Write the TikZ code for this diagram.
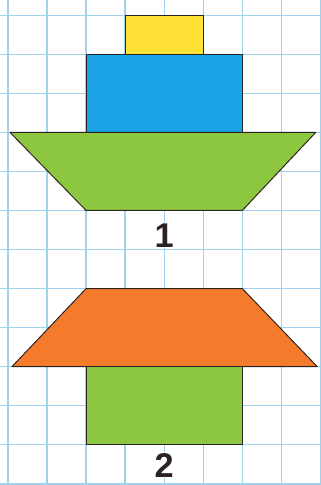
\documentclass[tikz,border=0pt]{standalone}
\usepackage{fontspec}
\setsansfont{Liberation Sans}
\usetikzlibrary{positioning}
\definecolor{gridc}{HTML}{A0D2EE}
\definecolor{sun}{HTML}{FFE135}
\definecolor{sky}{HTML}{1AA3E6}
\definecolor{leaf}{HTML}{8DC63F}
\definecolor{rust}{HTML}{F47A2C}
\definecolor{ink}{HTML}{2B2222}
\tikzset{gridline/.style={draw=gridc,line width=1pt},
  piece/.style={draw=ink,line width=.7pt,line join=round},
  numlbl/.style={fill=white,inner sep=.5pt,text=ink,font=\sffamily\bfseries\fontsize{25}{25}\selectfont}}
\begin{document}
\begin{tikzpicture}[x=1cm,y=1cm]
\useasboundingbox (-.205,-.03) rectangle (8,12.39);
\fill[white] (-.205,-.03) rectangle (8,12.39);
\foreach \i in {0,...,8} \draw[gridline] (\i,-.03)--(\i,12.39);
\foreach \j in {0,...,12} \draw[gridline] (-.205,\j)--(8,\j);
% figure 1
\draw[piece,fill=sun] (3,11) rectangle (5,12);
\draw[piece,fill=sky] (2,9) rectangle (6,11);
\draw[piece,fill=leaf] (.05,9)--(7.88,9)--(6,7)--(2,7)--cycle;
\node[numlbl] (one) at (4,6.35) {1};
% figure 2
\draw[piece,fill=rust] (2,5)--(6,5)--(7.92,3)--(.1,3)--cycle;
\draw[piece,fill=leaf] (2,1) rectangle (6,3);
\node[numlbl] (two) at (4,.47) {2};
\end{tikzpicture}
\end{document}
